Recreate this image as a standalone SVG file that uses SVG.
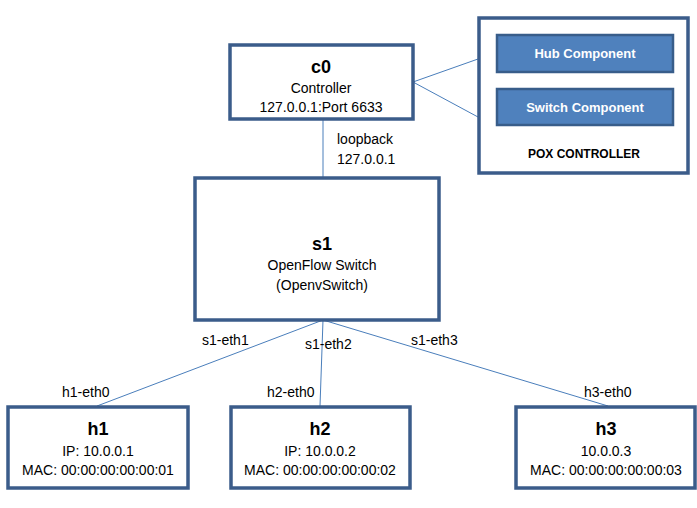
<svg xmlns="http://www.w3.org/2000/svg" width="697" height="508" viewBox="0 0 697 508">
<style>
.box{fill:#fff;stroke:#3B5C8A;stroke-width:3.5}
.comp{fill:#4F81BD;stroke:#385D8A;stroke-width:2.5}
.ln{stroke:#4A7EBB;stroke-width:1;fill:none}
text{font-family:"Liberation Sans",Arial,sans-serif;fill:#000}
.t{font-size:18px;font-weight:bold;text-anchor:middle}
.s{font-size:14px;text-anchor:middle}
.l{font-size:14px}
.c{font-size:13px;font-weight:bold;fill:#fff;text-anchor:middle}
.p{font-size:12px;font-weight:bold;text-anchor:middle}
</style>
<rect width="697" height="508" fill="#fff"/>
<g id="connectors">
<line class="ln" x1="413" y1="82" x2="478" y2="59"/>
<line class="ln" x1="413" y1="82" x2="478" y2="117"/>
<line class="ln" x1="323" y1="120" x2="323" y2="177"/>
<line class="ln" x1="323" y1="320" x2="97" y2="406"/>
<line class="ln" x1="323" y1="320" x2="320" y2="406"/>
<line class="ln" x1="323" y1="320" x2="608" y2="406"/>
<text class="l" x="337" y="144">loopback</text>
<text class="l" x="337" y="164">127.0.0.1</text>
<text class="l" x="202" y="345">s1-eth1</text>
<text class="l" x="305" y="349">s1-eth2</text>
<text class="l" x="411" y="345">s1-eth3</text>
<text class="l" x="62" y="397">h1-eth0</text>
<text class="l" x="267" y="397">h2-eth0</text>
<text class="l" x="584" y="397">h3-eth0</text>
</g>
<g id="c0">
<rect class="box" x="230" y="45" width="183" height="74"/>
<text class="t" x="321" y="73">c0</text>
<text class="s" x="321" y="93">Controller</text>
<text class="s" x="321" y="112">127.0.0.1:Port 6633</text>
</g>
<g id="pox">
<rect class="box" x="479" y="18" width="209" height="155"/>
<g id="hub">
<rect class="comp" x="497" y="35" width="176" height="37"/>
<text class="c" x="585" y="58">Hub Component</text>
</g>
<g id="switchcomp">
<rect class="comp" x="497" y="89" width="176" height="36"/>
<text class="c" x="585" y="112">Switch Component</text>
</g>
<text class="p" x="584" y="158">POX CONTROLLER</text>
</g>
<g id="s1">
<rect class="box" x="195" y="178" width="244" height="142"/>
<text class="t" x="322" y="250">s1</text>
<text class="s" x="322" y="270">OpenFlow Switch</text>
<text class="s" x="322" y="290">(OpenvSwitch)</text>
</g>
<g id="h1">
<rect class="box" x="8" y="407" width="180" height="81"/>
<text class="t" x="98" y="435">h1</text>
<text class="s" x="98" y="456">IP: 10.0.0.1</text>
<text class="s" x="98" y="475">MAC: 00:00:00:00:00:01</text>
</g>
<g id="h2">
<rect class="box" x="231" y="407" width="179" height="81"/>
<text class="t" x="320" y="435">h2</text>
<text class="s" x="320" y="456">IP: 10.0.0.2</text>
<text class="s" x="320" y="475">MAC: 00:00:00:00:00:02</text>
</g>
<g id="h3">
<rect class="box" x="516" y="407" width="179" height="81"/>
<text class="t" x="606" y="435">h3</text>
<text class="s" x="606" y="456">10.0.0.3</text>
<text class="s" x="606" y="475">MAC: 00:00:00:00:00:03</text>
</g>
</svg>
